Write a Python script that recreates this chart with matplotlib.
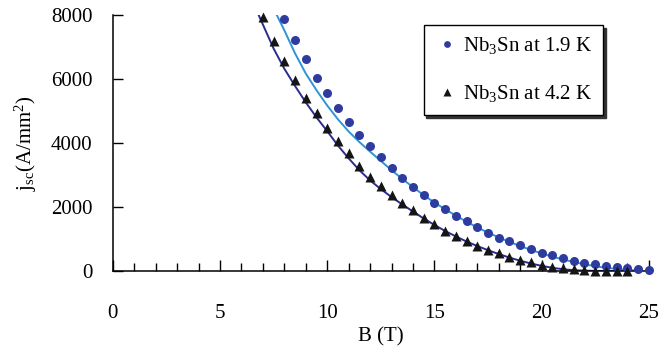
"""Critical current density of Nb3Sn versus field at 1.9 K and 4.2 K."""

import matplotlib

matplotlib.use("Agg")
import matplotlib.pyplot as plt
from matplotlib.ticker import MultipleLocator

# measured points, 0.5 T steps
b_19k = [8.0, 8.5, 9.0, 9.5, 10.0, 10.5, 11.0, 11.5, 12.0, 12.5, 13.0, 13.5, 14.0, 14.5,
         15.0, 15.5, 16.0, 16.5, 17.0, 17.5, 18.0, 18.5, 19.0, 19.5, 20.0, 20.5, 21.0,
         21.5, 22.0, 22.5, 23.0, 23.5, 24.0, 24.5, 25.0]
j_19k = [7870, 7210, 6620, 6040, 5570, 5100, 4650, 4260, 3910, 3550, 3210, 2920, 2640, 2375,
         2140, 1930, 1725, 1550, 1370, 1190, 1036, 935, 822, 688, 560, 490, 397,
         325, 255, 205, 145, 116, 95, 48, 31]

b_42k = [7.0, 7.5, 8.0, 8.5, 9.0, 9.5, 10.0, 10.5, 11.0, 11.5, 12.0, 12.5, 13.0, 13.5,
         14.0, 14.5, 15.0, 15.5, 16.0, 16.5, 17.0, 17.5, 18.0, 18.5, 19.0, 19.5, 20.0,
         20.5, 21.0, 21.5, 22.0, 22.5, 23.0, 23.5, 24.0]
j_42k = [7950, 7200, 6560, 5970, 5400, 4930, 4460, 4070, 3680, 3280, 2940, 2650, 2390, 2130,
         1910, 1660, 1460, 1260, 1100, 947, 785, 656, 560, 447, 344, 272, 197,
         116, 84, 62, 41, 15, 10, 10, 10]

# fitted curves
b_fit_19k = [7.5, 8.0, 8.5, 9.0, 9.5, 10.0, 10.5, 11.0, 11.5, 12.0, 12.5, 13.0, 13.5, 14.0,
             14.5, 15.0, 15.5, 16.0, 16.5, 17.0, 17.5, 18.0, 18.5, 19.0, 19.5, 20.0, 20.5,
             21.0, 21.5, 22.0, 22.5, 23.0, 23.5, 24.0, 24.5]
j_fit_19k = [8200, 7520, 6800, 6170, 5650, 5170, 4740, 4360, 4030, 3730, 3440, 3150, 2880, 2620,
             2370, 2140, 1930, 1730, 1540, 1360, 1200, 1050, 910, 780, 660, 550, 450,
             360, 280, 210, 150, 100, 65, 35, 15]

b_fit_42k = [6.5, 7.0, 7.5, 8.0, 8.5, 9.0, 9.5, 10.0, 10.5, 11.0, 11.5, 12.0, 12.5, 13.0,
             13.5, 14.0, 14.5, 15.0, 15.5, 16.0, 16.5, 17.0, 17.5, 18.0, 18.5, 19.0, 19.5,
             20.0, 20.5, 21.0, 21.5, 22.0, 23.0, 24.0]
j_fit_42k = [8450, 7700, 6950, 6320, 5780, 5270, 4800, 4370, 3920, 3520, 3150, 2830, 2560, 2310,
             2080, 1860, 1640, 1440, 1250, 1080, 920, 780, 650, 530, 420, 320, 235,
             160, 100, 55, 25, 10, 0, 0]

plt.rcParams["font.family"] = ["Liberation Serif", "DejaVu Serif"]
plt.rcParams["mathtext.fontset"] = "custom"
plt.rcParams["mathtext.rm"] = "Liberation Serif"
plt.rcParams["mathtext.it"] = "Liberation Serif:italic"

fig = plt.figure(figsize=(6.6, 3.48), dpi=100)
ax = fig.add_axes([0.171, 0.2213, 0.812, 0.7356])

ax.plot(b_fit_19k, j_fit_19k, color="#2b95d6", lw=1.4, zorder=2)
ax.plot(b_fit_42k, j_fit_42k, color="#2a2d8e", lw=1.4, zorder=2)
ax.plot(b_19k, j_19k, "o", color="#2f3c9f", ms=6.5, mec="none", zorder=3,
        label="Nb$_3$Sn at 1.9 K", clip_on=False)
ax.plot(b_42k, j_42k, "^", color="#151515", ms=7.2, mec="none", zorder=3,
        label="Nb$_3$Sn at 4.2 K", clip_on=False)

ax.set_xlim(0, 25)
ax.set_ylim(0, 8000)
ax.xaxis.set_major_locator(MultipleLocator(5))
ax.xaxis.set_minor_locator(MultipleLocator(1))
ax.yaxis.set_major_locator(MultipleLocator(2000))
ax.tick_params(axis="x", which="major", direction="in", length=8, width=1, pad=24, labelsize=15)
ax.tick_params(axis="x", which="minor", direction="in", length=6, width=1)
ax.tick_params(axis="y", direction="in", length=7, width=1, pad=14.5, labelsize=15)
for side in ("top", "right"):
    ax.spines[side].set_visible(False)
for side in ("left", "bottom"):
    ax.spines[side].set_linewidth(1.1)

ax.set_xlabel("B (T)", fontsize=15, labelpad=3)
ax.set_ylabel("j$_{\\mathrm{sc}}$(A/mm$^2$)", fontsize=15, labelpad=9)

leg = ax.legend(loc="upper left", bbox_to_anchor=(0.58, 0.961), frameon=True, fancybox=False,
                shadow={"color": "#333333", "alpha": 1.0}, edgecolor="black", framealpha=1,
                fontsize=15, markerscale=0.75, handlelength=1.2, handletextpad=0.2,
                labelspacing=1.3, borderpad=0.5, borderaxespad=0)
leg.get_frame().set_linewidth(1.0)

fig.savefig("out.png", dpi=100)
